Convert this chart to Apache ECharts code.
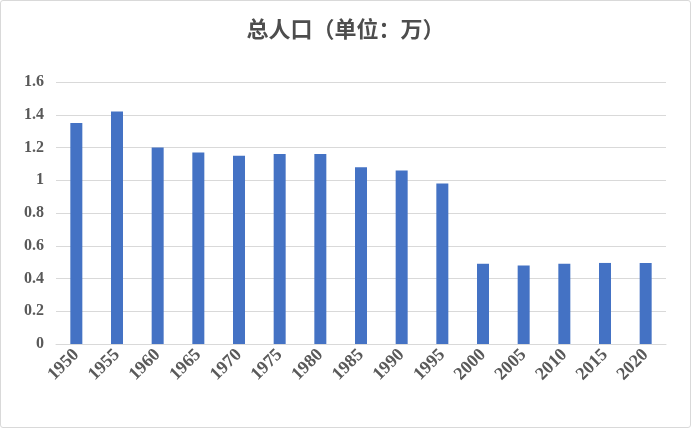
<!DOCTYPE html>
<html><head><meta charset="utf-8">
<script src="https://cdn.jsdelivr.net/npm/echarts@6/dist/echarts.min.js"></script>
<style>html,body{margin:0;padding:0;background:#fff}#c{width:689px;height:426px;border:1px solid #d9d9d9;border-radius:3px}</style>
</head><body><div id="c"></div>
<script>
const categories=['1950','1955','1960','1965','1970','1975','1980','1985','1990','1995','2000','2005','2010','2015','2020'];
const values=[1.35,1.42,1.20,1.17,1.15,1.16,1.16,1.08,1.06,0.98,0.49,0.48,0.49,0.495,0.495];
const yTicks=[0,0.2,0.4,0.6,0.8,1,1.2,1.4,1.6];
const chart=echarts.init(document.getElementById('c'));
chart.setOption({
  animation:false,
  title:{text:'总人口（单位：万）',left:'center',top:12,textStyle:{fontFamily:'Noto Sans CJK SC',fontWeight:'bold',fontSize:22,color:'#4d4d4d'}},
  grid:{left:55,right:24,top:81,bottom:83},
  xAxis:{type:'category',data:categories,axisTick:{show:false},axisLine:{lineStyle:{color:'#d9d9d9'}},
    axisLabel:{rotate:45,interval:0,color:'#595959',fontFamily:'Liberation Serif',fontWeight:'bold',fontSize:18,margin:8}},
  yAxis:{type:'value',min:0,max:1.6,interval:0.2,
    axisLabel:{color:'#595959',fontFamily:'Liberation Serif',fontWeight:'bold',fontSize:16,margin:12,formatter:v=>{const t=yTicks.find(x=>Math.abs(x-v)<1e-9);return String(t!==undefined?t:v);}},
    splitLine:{lineStyle:{color:'#d9d9d9'}}},
  series:[{type:'bar',data:values,barWidth:12,itemStyle:{color:'#4472c4'}}]
});
</script></body></html>
